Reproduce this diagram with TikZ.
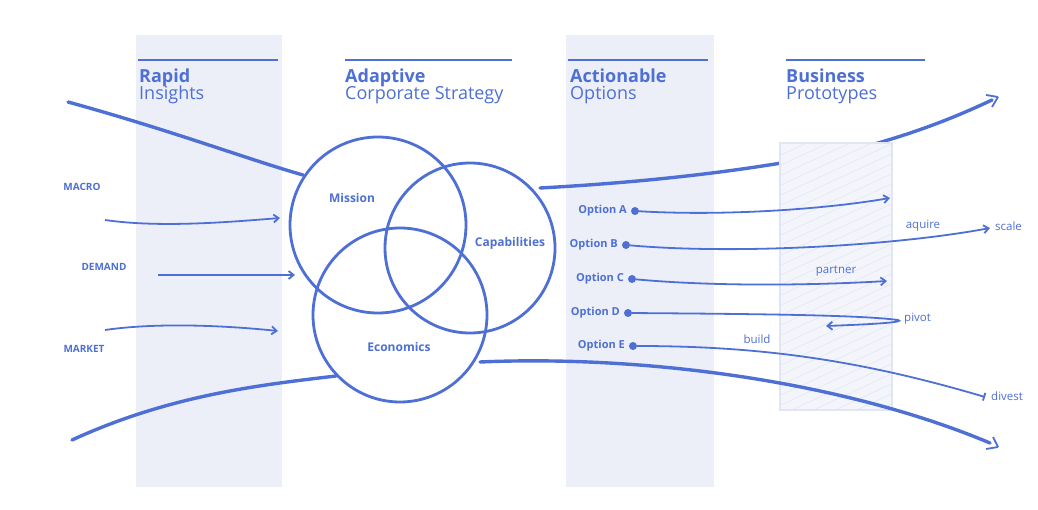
\documentclass[tikz,border=0pt]{standalone}
\usepackage{fontspec}
\setmainfont{Open Sans}
\usetikzlibrary{arrows.meta}
\begin{document}
\begin{tikzpicture}[x=1pt,y=-1pt,
    band/.style={fill=bandcol, draw=none},
    head/.style={font=\fontsize{18}{20}\selectfont\bfseries, text=bluecol, align=left, anchor=north west, inner sep=0pt},
    side/.style={font=\fontsize{10}{12}\selectfont\bfseries, text=bluecol, inner sep=1pt},
    circ/.style={font=\fontsize{12}{14}\selectfont\bfseries, text=bluecol, inner sep=1pt},
    opt/.style={font=\fontsize{11}{13}\selectfont\bfseries, text=bluecol, anchor=east, inner sep=1pt},
    word/.style={font=\fontsize{11.5}{13}\selectfont, text=bluecol, inner sep=1pt},
    flow/.style={draw=bluecol, line width=3.4pt, line cap=round},
    arr/.style={draw=bluecol, line width=1.8pt, -{Straight Barb[length=5pt,width=8pt]}},
    ring/.style={draw=bluecol, line width=2.8pt},
    dot/.style={circle, fill=bluecol, minimum size=8pt, inner sep=0pt}]
    \definecolor{bluecol}{RGB}{78,112,212}
    \definecolor{bandcol}{RGB}{236,239,248}
    \definecolor{boxcol}{RGB}{226,230,244}
    \fill[white] (0,0) rectangle (1038,510);
    \useasboundingbox (0,0) rectangle (1038,510);
    % bands
    \fill[band] (136,35) rectangle (282,487);
    \fill[band] (566,35) rectangle (714,487);
    % header rules
    \foreach \xa/\xb in {138/278, 345/512, 568/708, 786/925}
        \draw[bluecol, line width=2pt] (\xa,60) -- (\xb,60);
    \node[head] (hRapid) at (139,69) {Rapid\\[-3pt]\mdseries Insights};
    \node[head] (hStrat) at (345,69) {Adaptive\\[-3pt]\mdseries Corporate Strategy};
    \node[head] (hOpt) at (570,69) {Actionable\\[-3pt]\mdseries Options};
    \node[head] (hProt) at (786,69) {Business\\[-3pt]\mdseries Prototypes};
    % main flows
    \coordinate (inTop) at (68,102);
    \coordinate (inBot) at (72,440);
    \coordinate (outTop) at (998,97);
    \coordinate (outBot) at (998,447);
    \draw[flow] (inTop) .. controls (170,130) and (250,160) .. (303,175);
    \draw[flow] (inBot) .. controls (170,395) and (260,385) .. (336,376);
    \draw[flow] (540,188) .. controls (650,182) and (760,170) .. (860,148)
        .. controls (920,132) and (960,115) .. (992,100);
    \draw[bluecol, line width=1.8pt] (outTop) -- ++(-12,-2) (outTop) -- ++(-6,10);
    % prototype box
    \fill[boxcol!40!white, draw=boxcol, line width=1.5pt] (780,143) rectangle (892,410);
    \begin{scope}
        \clip (781,144) rectangle (891,409);
        \foreach \k in {0,...,30}
            \draw[boxcol, line width=0.6pt] (770,160+\k*10) -- (900,100+\k*10);
    \end{scope}
    \draw[flow] (480,362) .. controls (640,355) and (840,380) .. (990,443);
    \draw[bluecol, line width=1.8pt] (outBot) -- ++(-12,2) (outBot) -- ++(-5,-10);
    % circles
    \draw[ring] (378,225) circle (88);
    \draw[ring] (470,248) circle (85);
    \draw[ring] (400,315) circle (87);
    \node[circ] (cMis) at (352,198) {Mission};
    \node[circ] (cCap) at (510,243) {Capabilities};
    \node[circ] (cEco) at (399,347) {Economics};
    % insights
    \node[side] (sMacro) at (82,187) {MACRO};
    \node[side] (sDemand) at (104,267) {DEMAND};
    \node[side] (sMarket) at (84,349) {MARKET};
    \coordinate (mA) at (105,220); \coordinate (mB) at (280,218);
    \coordinate (dA) at (158,275); \coordinate (dB) at (295,275);
    \coordinate (kA) at (105,330); \coordinate (kB) at (278,331);
    \draw[arr] (mA) .. controls (160,228) and (230,222) .. (mB);
    \draw[arr] (dA) -- (dB);
    \draw[arr] (kA) .. controls (160,322) and (230,326) .. (kB);
    % options
    \foreach \n/\l/\y/\dx in {A/Option A/211/635, B/Option B/245/626, C/Option C/279/632, D/Option D/313/628, E/Option E/346/633}{
        \node[dot] (d\n) at (\dx,\y) {};
        \node[opt] (o\n) at (\dx-7,\y) {\l};
    }
    \coordinate (eA) at (890,198);
    \coordinate (eB) at (990,228);
    \coordinate (eC) at (887,281);
    \coordinate (eD) at (826,326);
    \coordinate (eE) at (985,397);
    \draw[arr] (dA) .. controls (720,216) and (820,210) .. (eA);
    \draw[arr] (dB) .. controls (740,255) and (900,245) .. (eB);
    \draw[arr] (dC) .. controls (720,287) and (820,285) .. (eC);
    \draw[arr] (dD) .. controls (760,314) and (860,315) .. (898,320)
        .. controls (905,322) and (880,324) .. (eD);
    \draw[draw=bluecol, line width=1.8pt, -{Bar[width=8pt]}] (dE) .. controls (760,346) and (860,360) .. (eE);
    \node[word, anchor=west] (wScale) at (994,226) {scale};
    \node[word] (wAquire) at (923,226) {aquire};
    \node[word] (wPartner) at (836,271) {partner};
    \node[word, anchor=west] (wPivot) at (903,319) {pivot};
    \node[word] (wBuild) at (757,339) {build};
    \node[word, anchor=west] (wDivest) at (990,396) {divest};
\end{tikzpicture}
\end{document}
